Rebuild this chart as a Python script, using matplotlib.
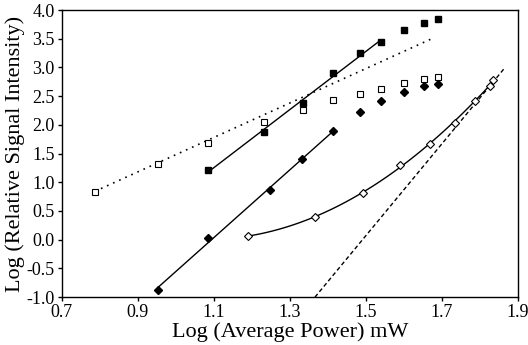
import numpy as np
import matplotlib
matplotlib.use("Agg")
import matplotlib.pyplot as plt

plt.rcParams['font.family'] = ['Liberation Serif', 'DejaVu Serif']

# filled squares
sq_x = [1.084, 1.232, 1.334, 1.413, 1.484, 1.540, 1.600, 1.653, 1.690]
sq_y = [1.21, 1.87, 2.38, 2.90, 3.25, 3.44, 3.65, 3.77, 3.84]
# open squares
osq_x = [0.787, 0.953, 1.084, 1.232, 1.334, 1.413, 1.484, 1.540, 1.600, 1.653, 1.690]
osq_y = [0.83, 1.31, 1.68, 2.05, 2.26, 2.43, 2.54, 2.62, 2.73, 2.80, 2.83]
# filled diamonds
dia_x = [0.953, 1.084, 1.247, 1.332, 1.413, 1.484, 1.540, 1.600, 1.653, 1.690]
dia_y = [-0.88, 0.03, 0.86, 1.40, 1.89, 2.22, 2.41, 2.57, 2.67, 2.71]
# open diamonds
odia_x = [1.189, 1.366, 1.492, 1.589, 1.668, 1.734, 1.787, 1.826, 1.834]
odia_y = [0.06, 0.40, 0.81, 1.30, 1.67, 2.03, 2.41, 2.68, 2.78]

# trend lines (slope, intercept, x range)
dotted_fit = (3.0, -1.52, 0.787, 1.676)
dashed_fit = (8.0, -11.93, 1.366, 1.866)

fig = plt.figure(figsize=(5.28, 3.45), dpi=100, facecolor='white')
ax = fig.add_axes([0.117, 0.139, 0.864, 0.832])

# linear fits over the lower points
p = np.polyfit(sq_x[:6], sq_y[:6], 1)
xx = np.linspace(sq_x[0], sq_x[5], 50)
ax.plot(xx, np.polyval(p, xx), color='black', lw=1)

p = np.polyfit(dia_x[:5], dia_y[:5], 1)
xx = np.linspace(dia_x[0], dia_x[4], 50)
ax.plot(xx, np.polyval(p, xx), color='black', lw=1)

p = np.polyfit(odia_x, odia_y, 2)
xx = np.linspace(odia_x[0], odia_x[-1], 100)
ax.plot(xx, np.polyval(p, xx), color='black', lw=1)

m, b, x0, x1 = dotted_fit
xx = np.array([x0, x1])
ax.plot(xx, m * xx + b, color='black', lw=1.2, ls=(0, (1, 3)))

m, b, x0, x1 = dashed_fit
xx = np.array([x0, x1])
ax.plot(xx, m * xx + b, color='black', lw=1, ls=(0, (3, 2)))

ax.plot(sq_x, sq_y, 's', color='black', ms=5, ls='none')
ax.plot(osq_x, osq_y, 's', mfc='white', mec='black', mew=0.8, ms=5, ls='none')
ax.plot(dia_x, dia_y, 'D', color='black', ms=4.5, ls='none')
ax.plot(odia_x, odia_y, 'D', mfc='white', mec='black', mew=0.8, ms=4.5, ls='none')

ax.set_xlim(0.7, 1.9)
ax.set_ylim(-1.0, 4.0)
ax.set_xticks([0.7, 0.9, 1.1, 1.3, 1.5, 1.7, 1.9])
ax.set_yticks(np.arange(-1.0, 4.01, 0.5))
ax.xaxis.set_major_formatter(matplotlib.ticker.FormatStrFormatter('%.1f'))
ax.yaxis.set_major_formatter(matplotlib.ticker.FormatStrFormatter('%.1f'))
ax.tick_params(direction='out', length=3, width=1, labelsize=13, pad=2)
for s in ax.spines.values():
    s.set_linewidth(1)

ax.set_xlabel('Log (Average Power) mW', fontsize=16, labelpad=1)
ax.set_ylabel('Log (Relative Signal Intensity)', fontsize=16, labelpad=1)

fig.savefig('out.png', dpi=100)
